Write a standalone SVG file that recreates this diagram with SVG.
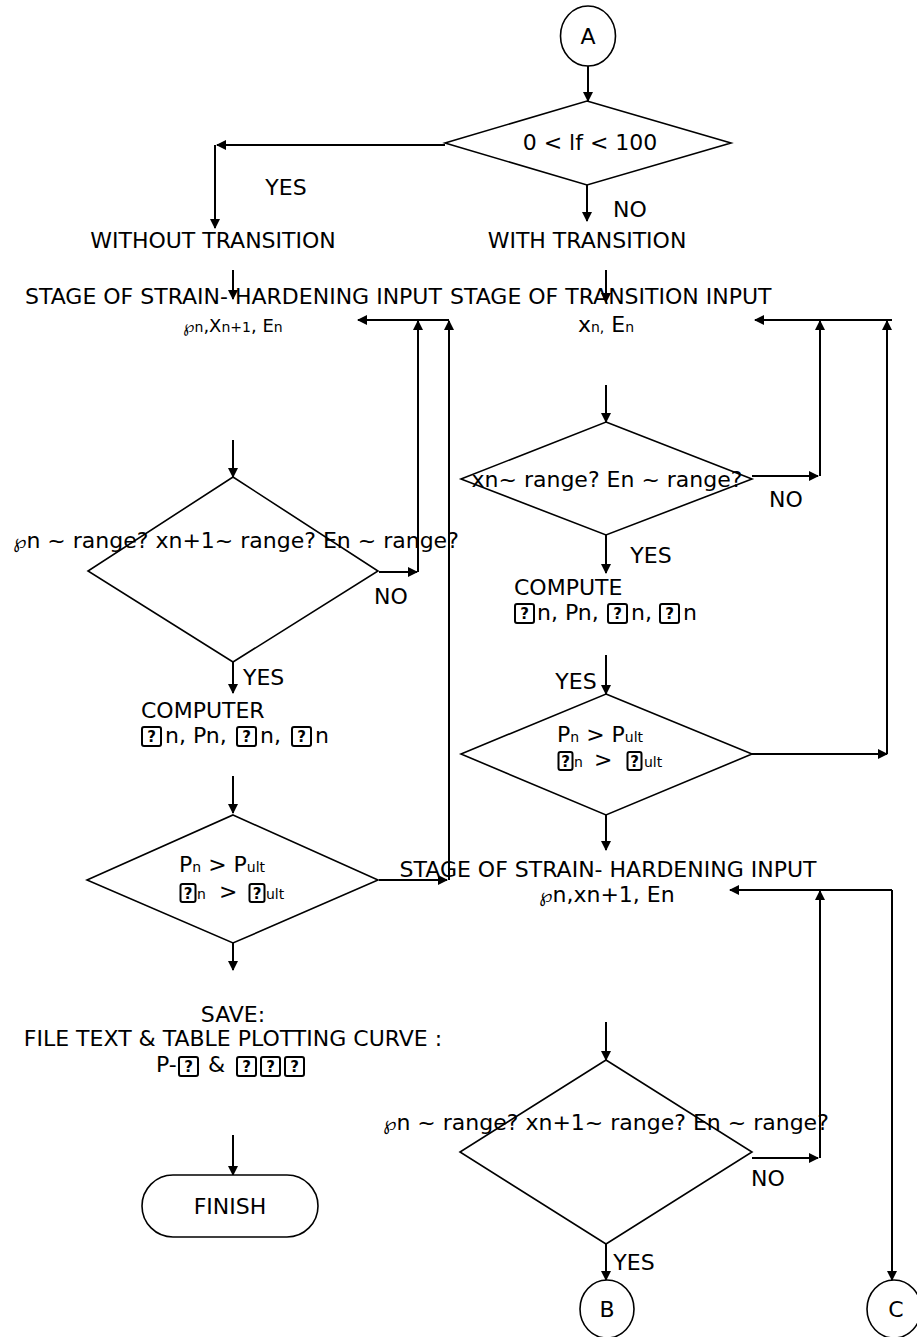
<svg xmlns="http://www.w3.org/2000/svg" width="917" height="1337" viewBox="0 0 917 1337">
<defs>
<style>
text{font-family:"DejaVu Sans","Liberation Sans",sans-serif;font-size:22px;fill:#000}
.m{text-anchor:middle}
.s{font-size:14px}
.sc{font-size:19px}
.qm{font-size:15px;font-weight:bold;text-anchor:middle}
.bx{fill:none;stroke:#000;stroke-width:2;rx:2}
.shape{fill:#fff;stroke:#000;stroke-width:1.6}
.c path{fill:none;stroke:#000;stroke-width:2;marker-end:url(#ah)}
</style>
<marker id="ah" viewBox="0 0 10 10" refX="9" refY="5" markerWidth="5" markerHeight="5" orient="auto" markerUnits="strokeWidth">
<path d="M0,0 L10,5 L0,10 z" fill="#000"/>
</marker>
</defs>
<rect width="917" height="1337" fill="#fff"/>
<g id="connectors" class="c">
<path d="M588,66 V101"/>
<path d="M445,145 H217"/>
<path d="M215,145 V228"/>
<path d="M587,185 V221"/>
<path d="M233,270 V299"/>
<path d="M606,270 V302"/>
<path d="M449,320 H358"/>
<path d="M418,572 V321"/>
<path d="M449,880 V321"/>
<path d="M233,440 V477"/>
<path d="M379,572 H417"/>
<path d="M233,662 V693"/>
<path d="M233,776 V813"/>
<path d="M379,880 H447"/>
<path d="M233,935 V970"/>
<path d="M233,1135 V1175"/>
<path d="M892,320 H755"/>
<path d="M820,476 V321"/>
<path d="M887,754 V321"/>
<path d="M606,385 V422"/>
<path d="M752,476 H818"/>
<path d="M606,535 V573"/>
<path d="M606,655 V694"/>
<path d="M752,754 H887"/>
<path d="M606,815 V850"/>
<path d="M892,890 H730"/>
<path d="M820,1158 V891"/>
<path d="M892,890 V1280"/>
<path d="M606,1022 V1060"/>
<path d="M752,1158 H818"/>
<path d="M606,1244 V1280"/>
</g>
<g id="nodeA"><ellipse class="shape" cx="588" cy="36" rx="27.5" ry="30"/><text class="m" x="588" y="44">A</text></g>
<g id="decision1"><polygon class="shape" points="587,101 731,143 587,185 445,143"/><text class="m" x="590" y="150">0 &lt; lf &lt; 100</text></g>
<g id="labels-top">
<text class="m" x="286" y="195">YES</text>
<text class="m" x="630" y="217">NO</text>
<text class="m" x="213" y="248">WITHOUT TRANSITION</text>
<text class="m" x="587" y="248">WITH TRANSITION</text>
</g>
<g id="stageStrainLeft">
<text x="25" y="304">STAGE OF STRAIN- HARDENING INPUT</text>
<text class="m" x="233" y="332"><tspan font-size="16">℘</tspan><tspan class="s">n</tspan><tspan font-size="18">,X</tspan><tspan class="s">n+1</tspan><tspan font-size="18">, E</tspan><tspan class="s">n</tspan></text>
</g>
<g id="stageTransition">
<text x="450" y="304">STAGE OF TRANSITION INPUT</text>
<text class="m" x="606" y="332">x<tspan class="s">n,</tspan> E<tspan class="s">n</tspan></text>
</g>
<g id="decision2"><polygon class="shape" points="233,477 378,571 233,662 88,571"/><text class="m" x="236" y="548"><tspan class="sc">℘</tspan>n ~ range? xn+1~ range? En ~ range?</text></g>
<text class="m" x="391" y="604">NO</text>
<text x="243" y="685">YES</text>
<g id="computer"><text x="141" y="718">COMPUTER</text>
<rect class="bx" x="142" y="727" width="19" height="19"/><text class="qm" x="151.5" y="742">?</text>
<rect class="bx" x="237" y="727" width="19" height="19"/><text class="qm" x="246.5" y="742">?</text>
<rect class="bx" x="292" y="727" width="19" height="19"/><text class="qm" x="301.5" y="742">?</text>
<text y="743"><tspan x="165">n, Pn, </tspan><tspan x="260">n, </tspan><tspan x="315">n</tspan></text></g>
<g id="decision3"><polygon class="shape" points="233,815 378,880 233,943 87,880"/>
<text x="179" y="872">P<tspan class="s">n</tspan> &gt; P<tspan class="s">ult</tspan></text>
<rect class="bx" x="180.5" y="884" width="15" height="18"/><text class="qm" x="188" y="899">?</text>
<rect class="bx" x="249.5" y="884" width="15" height="18"/><text class="qm" x="257" y="899">?</text>
<text y="899"><tspan class="s" x="197">n</tspan><tspan x="219">&gt;</tspan><tspan class="s" x="266">ult</tspan></text></g>
<g id="save">
<text class="m" x="233" y="1022">SAVE:</text>
<text class="m" x="233" y="1046">FILE TEXT &amp; TABLE PLOTTING CURVE :</text>
<text y="1072"><tspan x="156">P-</tspan><tspan x="208">&amp;</tspan></text>
<rect class="bx" x="179" y="1057" width="19" height="19"/><text class="qm" x="188.5" y="1072">?</text>
<rect class="bx" x="237" y="1057" width="19" height="19"/><text class="qm" x="246.5" y="1072">?</text>
<rect class="bx" x="261" y="1057" width="19" height="19"/><text class="qm" x="270.5" y="1072">?</text>
<rect class="bx" x="285" y="1057" width="19" height="19"/><text class="qm" x="294.5" y="1072">?</text>
</g>
<g id="finish"><rect class="shape" x="142" y="1175" width="176" height="62" rx="31"/><text class="m" x="230" y="1214">FINISH</text></g>
<g id="decision4"><polygon class="shape" points="606,422 752,479 606,535 461,479"/><text class="m" x="607" y="487">xn~ range? En ~ range?</text></g>
<text class="m" x="786" y="507">NO</text>
<text class="m" x="651" y="563">YES</text>
<g id="compute"><text x="514" y="595">COMPUTE</text>
<rect class="bx" x="515" y="604" width="19" height="19"/><text class="qm" x="524.5" y="619">?</text>
<rect class="bx" x="608" y="604" width="19" height="19"/><text class="qm" x="617.5" y="619">?</text>
<rect class="bx" x="660" y="604" width="19" height="19"/><text class="qm" x="669.5" y="619">?</text>
<text y="620"><tspan x="537">n, Pn, </tspan><tspan x="631">n, </tspan><tspan x="683">n</tspan></text></g>
<text class="m" x="576" y="689">YES</text>
<g id="decision5"><polygon class="shape" points="606,694 752,754 606,815 461,754"/>
<text x="557" y="742">P<tspan class="s">n</tspan> &gt; P<tspan class="s">ult</tspan></text>
<rect class="bx" x="558.5" y="752" width="14" height="18"/><text class="qm" x="565.5" y="767">?</text>
<rect class="bx" x="627.5" y="752" width="14" height="18"/><text class="qm" x="634.5" y="767">?</text>
<text y="767"><tspan class="s" x="574">n</tspan><tspan x="594">&gt;</tspan><tspan class="s" x="644">ult</tspan></text></g>
<g id="stageStrainRight">
<text class="m" x="608" y="877">STAGE OF STRAIN- HARDENING INPUT</text>
<text class="m" x="607" y="902"><tspan class="sc">℘</tspan>n,xn+1, En</text>
</g>
<g id="decision6"><polygon class="shape" points="606,1060 752,1152 606,1244 460,1152"/><text class="m" x="606" y="1130"><tspan class="sc">℘</tspan>n ~ range? xn+1~ range? En ~ range?</text></g>
<text class="m" x="768" y="1186">NO</text>
<text class="m" x="634" y="1270">YES</text>
<g id="nodeB"><ellipse class="shape" cx="607" cy="1309" rx="27" ry="29"/><text class="m" x="607" y="1317">B</text></g>
<g id="nodeC"><ellipse class="shape" cx="894" cy="1309" rx="27" ry="29"/><text class="m" x="896" y="1317">C</text></g>
</svg>
